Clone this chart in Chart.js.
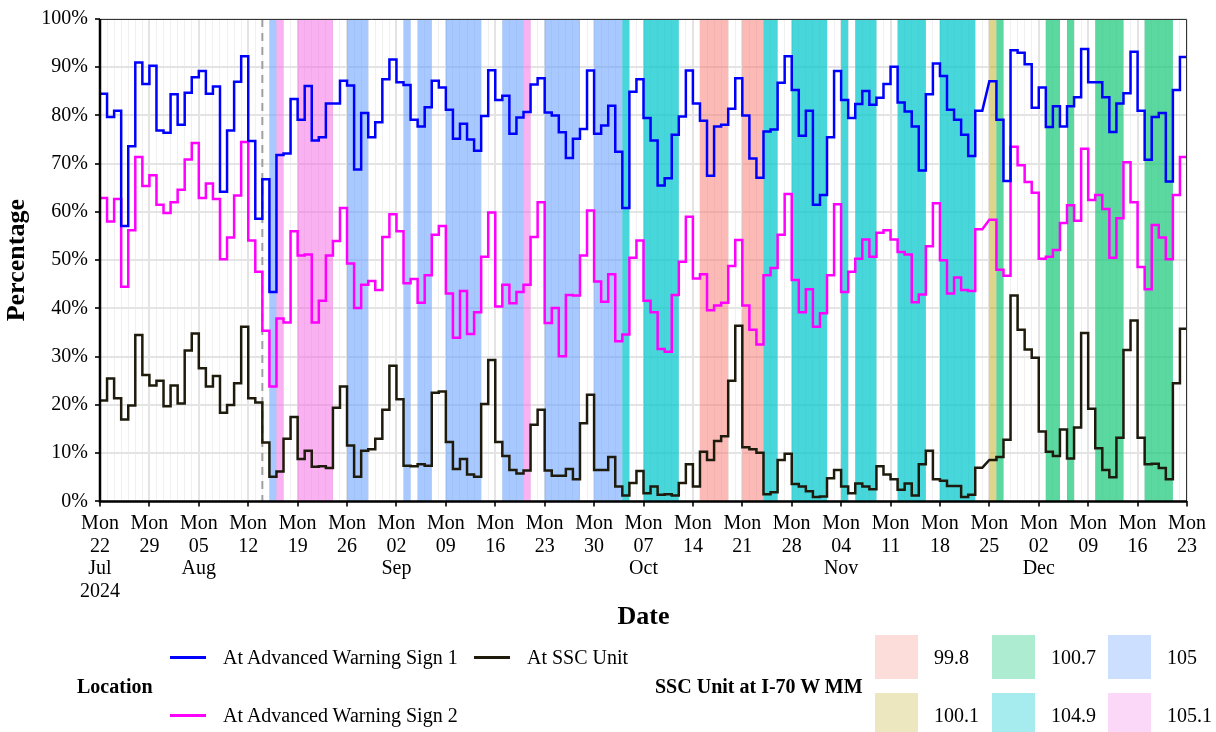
<!DOCTYPE html>
<html>
<head>
<meta charset="utf-8">
<script src="https://cdn.jsdelivr.net/npm/chart.js@4.4.1/dist/chart.umd.min.js"></script>
<style>
  html, body { margin: 0; padding: 0; background: #fff; }
  #wrap { position: relative; width: 1216px; height: 732px; overflow: hidden; font-family: 'Liberation Serif', 'Times New Roman', serif; }
  #chart { position: absolute; left: 0; top: 0; }
  .lg { position: absolute; font-size: 20px; line-height: 20px; white-space: nowrap; color: #000; }
  .lg-title { font-weight: bold; }
  .lg-line { position: absolute; height: 3px; width: 36px; }
  .lg-box { position: absolute; width: 43px; height: 44px; }
</style>
</head>
<body>
<div id="wrap">
  <canvas id="chart" width="1216" height="732"></canvas>
  <div id="legend"></div>
</div>
<script>
// daily share of speeding (%) by location, day 0 = Mon 22 Jul 2024, null = no data
const sign1 = [
  84.5, 79.7, 81.0, 57.1, 73.6, 91.0, 86.5, 90.3, 76.9, 76.4, 84.4, 78.1, 84.7, 87.9,
  89.2, 84.5, 86.0, 64.2, 76.9, 87.0, 92.3, 74.7, 58.6, 66.8, 43.4, 71.8, 72.1, 83.4,
  79.1, 86.1, 74.8, 75.5, 82.5, 82.5, 87.2, 86.2, 68.8, 80.5, 75.5, 78.6, 87.5, 91.6,
  86.9, 86.3, 79.1, 77.7, 81.7, 87.2, 85.8, 81.2, 75.2, 78.3, 75.0, 72.7, 79.9, 89.4,
  83.2, 84.1, 76.2, 79.6, 80.7, 86.4, 87.7, 80.6, 80.0, 76.5, 71.2, 75.2, 77.2, 89.3,
  76.2, 77.9, 82.0, 72.5, 60.8, 84.9, 87.5, 79.5, 74.8, 65.5, 67.0, 76.0, 79.8, 89.3,
  82.5, 78.9, 67.5, 77.7, 78.1, 81.4, 87.7, 80.0, 71.1, 67.1, 76.7, 77.1, 86.8, 92.3,
  85.3, 75.8, 81.0, 61.5, 63.5, 75.5, 89.2, 83.2, 79.5, 82.4, 85.1, 82.2, 83.7, 86.5,
  90.1, 82.7, 80.8, 77.7, 68.6, 84.4, 90.8, 88.2, 81.2, 79.1, 76.0, 71.6, 81.0, null,
  87.1, 79.1, 66.4, 93.5, 93.0, 90.6, 81.6, 85.8, 77.6, 81.9, 77.7, 81.9, 83.8, 93.8,
  86.9, 86.9, 83.8, 76.6, 82.5, 84.6, 93.2, 81.0, 70.8, 79.7, 80.5, 66.3, 85.3, 92.1
];
const sign2 = [
  62.9, 58.0, 62.7, 44.5, 56.2, 71.4, 65.4, 67.6, 61.5, 59.8, 62.0, 64.6, 70.9, 74.3,
  62.9, 65.9, 62.7, 50.2, 54.7, 63.4, 74.5, 54.1, 47.6, 35.4, 23.8, 37.9, 37.1, 56.0,
  51.0, 51.2, 37.1, 41.6, 51.0, 54.0, 60.8, 49.3, 40.1, 44.9, 45.7, 43.8, 54.8, 59.5,
  56.0, 45.2, 46.1, 41.2, 46.9, 55.3, 57.1, 43.1, 33.9, 43.6, 34.7, 39.2, 50.7, 59.9,
  40.4, 44.9, 41.1, 43.4, 44.9, 54.8, 62.0, 37.0, 40.1, 30.1, 42.8, 42.7, 51.0, 60.3,
  45.6, 41.4, 47.1, 33.2, 34.6, 50.5, 54.1, 41.6, 39.2, 31.6, 31.0, 42.8, 49.7, 59.0,
  46.2, 47.1, 39.6, 40.6, 41.2, 48.8, 54.2, 40.6, 35.6, 32.5, 46.9, 48.4, 55.3, 63.7,
  45.9, 39.2, 44.0, 36.2, 39.0, 46.9, 61.6, 43.4, 47.6, 50.3, 54.3, 50.7, 55.7, 56.2,
  54.3, 51.7, 51.2, 41.3, 42.9, 52.9, 61.8, 50.0, 43.1, 46.4, 43.8, 43.6, 56.4, null,
  58.4, 48.0, 46.8, 73.5, 69.7, 66.2, 64.0, 50.3, 50.7, 52.1, 57.7, 61.4, 58.2, 73.1,
  62.5, 63.5, 60.6, 50.5, 58.7, 70.3, 62.0, 48.6, 44.0, 57.3, 54.7, 50.2, 63.5, 71.4
];
const sscUnit = [
  20.9, 25.5, 21.4, 17.0, 19.9, 34.5, 26.2, 24.0, 25.0, 19.7, 24.0, 20.3, 31.3, 34.8,
  27.6, 23.8, 26.0, 18.4, 20.0, 24.5, 36.2, 21.4, 20.5, 12.2, 5.1, 6.2, 13.0, 17.5,
  8.8, 10.5, 7.2, 7.3, 6.9, 19.4, 23.8, 11.6, 5.1, 10.5, 10.8, 13.0, 19.0, 28.1,
  21.2, 7.4, 7.3, 7.7, 7.4, 22.5, 22.8, 12.3, 6.7, 8.8, 5.6, 5.1, 20.2, 29.3,
  12.3, 9.4, 6.5, 5.8, 6.4, 15.9, 19.0, 6.4, 5.3, 5.3, 6.7, 4.6, 16.2, 22.1,
  6.5, 6.5, 9.2, 3.1, 1.2, 3.8, 6.3, 1.7, 3.1, 1.4, 1.5, 1.2, 3.8, 7.7,
  3.1, 10.3, 8.6, 12.5, 13.5, 25.0, 36.4, 11.2, 10.8, 10.1, 1.5, 1.9, 8.6, 9.9,
  3.6, 3.1, 2.1, 0.9, 1.0, 4.8, 6.5, 3.1, 1.7, 3.7, 3.1, 2.5, 7.3, 5.6,
  4.6, 2.4, 3.7, 1.2, 7.7, 10.5, 4.6, 4.3, 3.2, 3.2, 0.9, 1.4, 7.0, null,
  8.6, 9.2, 12.8, 42.7, 35.6, 31.5, 29.8, 14.5, 10.3, 9.4, 14.9, 8.9, 15.3, 34.9,
  19.2, 11.0, 6.5, 5.0, 13.2, 31.4, 37.5, 13.2, 7.7, 7.8, 6.9, 4.6, 24.5, 35.8
];

// where the SSC unit stood (day ranges, end exclusive)
const bandStart = [24, 25, 28, 35, 43, 45, 49, 57, 60, 63, 70, 74, 77, 85, 91, 94, 98, 105, 107, 113, 119, 126, 127, 134, 137, 141, 148];
const bandEnd   = [25, 26, 33, 38, 44, 47, 54, 60, 61, 68, 74, 75, 82, 89, 94, 96, 103, 106, 110, 117, 124, 127, 128, 136, 138, 145, 152];
const bandUnit  = ['105', '105.1', '105.1', '105', '105', '105', '105', '105', '105.1', '105', '105', '104.9', '104.9', '99.8', '99.8',
                   '104.9', '104.9', '104.9', '104.9', '104.9', '104.9', '100.1', '100.7', '100.7', '100.7', '100.7', '100.7'];
const unitLevels = ['99.8', '100.1', '100.7', '104.9', '105', '105.1'];
const markerDay = 23;

// x axis: Mondays
const tickDays = [0, 7, 14, 21, 28, 35, 42, 49, 56, 63, 70, 77, 84, 91, 98, 105, 112, 119, 126, 133, 140, 147, 154];
const tickDayLabels = ['22', '29', '05', '12', '19', '26', '02', '09', '16', '23', '30', '07', '14', '21', '28', '04', '11', '18', '25', '02', '09', '16', '23'];
const tickMonthLabels = ['Jul', '', 'Aug', '', '', '', 'Sep', '', '', '', '', 'Oct', '', '', '', 'Nov', '', '', '', 'Dec', '', '', ''];
const yearLabel = '2024';
const lastDay = 154;

const FONT = "'Liberation Serif', 'Times New Roman', serif";
const bandFill = {
    '99.8': 'rgba(248,118,109,0.5)', '100.1': 'rgba(183,159,0,0.45)', '100.7': 'rgba(20,200,120,0.7)',
    '104.9': 'rgba(0,200,205,0.72)', '105': 'rgba(97,156,255,0.55)', '105.1': 'rgba(245,100,227,0.5)'
};
const keyFill = {
    '99.8': 'rgba(248,118,109,0.25)', '100.1': 'rgba(183,159,0,0.25)', '100.7': 'rgba(20,200,120,0.35)',
    '104.9': 'rgba(0,200,205,0.35)', '105': 'rgba(97,156,255,0.32)', '105.1': 'rgba(245,100,227,0.25)'
};

function stepPoints(values) {
    const pts = [];
    values.forEach((v, i) => {
        if (v === null) return;
        pts.push({ x: i, y: v }, { x: i + 1, y: v });
    });
    return pts;
}

const shading = {
    id: 'shading',
    beforeDatasetsDraw(chart) {
        const { ctx, chartArea: a, scales: { x } } = chart;
        ctx.save();
        bandStart.forEach((s, i) => {
            const x1 = x.getPixelForValue(s), x2 = x.getPixelForValue(bandEnd[i]);
            ctx.fillStyle = bandFill[bandUnit[i]];
            ctx.fillRect(x1, a.top, x2 - x1, a.bottom - a.top);
        });
        const xm = x.getPixelForValue(markerDay);
        ctx.strokeStyle = '#A0A0A0';
        ctx.lineWidth = 2;
        ctx.setLineDash([8, 6]);
        ctx.beginPath();
        ctx.moveTo(xm, a.top);
        ctx.lineTo(xm, a.bottom);
        ctx.stroke();
        ctx.restore();
    },
    afterDatasetsDraw(chart) {
        const { ctx, chartArea: a } = chart;
        ctx.save();
        ctx.strokeStyle = '#333';
        ctx.lineWidth = 1;
        ctx.beginPath();
        ctx.moveTo(a.left, a.top + 0.5);
        ctx.lineTo(a.right - 0.5, a.top + 0.5);
        ctx.lineTo(a.right - 0.5, a.bottom);
        ctx.stroke();
        ctx.strokeStyle = '#000';
        ctx.lineWidth = 2.5;
        ctx.beginPath();
        ctx.moveTo(a.left, a.top);
        ctx.lineTo(a.left, a.bottom);
        ctx.lineTo(a.right, a.bottom);
        ctx.stroke();
        ctx.restore();
    }
};

const allDays = Array.from({ length: lastDay + 1 }, (_, i) => i);
const yGrid = Array.from({ length: 21 }, (_, i) => i * 5);

const chart = new Chart(document.getElementById('chart'), {
    type: 'line',
    data: {
        datasets: [
            { label: 'At Advanced Warning Sign 1', data: stepPoints(sign1), borderColor: '#0000FF' },
            { label: 'At Advanced Warning Sign 2', data: stepPoints(sign2), borderColor: '#FF00FF' },
            { label: 'At SSC Unit', data: stepPoints(sscUnit), borderColor: '#1E1A0C' }
        ]
    },
    options: {
        responsive: false,
        animation: false,
        devicePixelRatio: 1,
        layout: { padding: { left: 0, right: 29, top: 15, bottom: 99 } },
        plugins: { legend: { display: false }, tooltip: { enabled: false } },
        elements: {
            point: { radius: 0 },
            line: { tension: 0, borderWidth: 2.5, borderJoinStyle: 'miter', fill: false }
        },
        scales: {
            x: {
                type: 'linear',
                min: 0,
                max: lastDay,
                afterBuildTicks: (s) => { s.ticks = allDays.map((v) => ({ value: v })); },
                afterFit: (s) => { s.height = 131.6; },
                ticks: {
                    autoSkip: false,
                    maxRotation: 0,
                    minRotation: 0,
                    padding: 6,
                    color: '#000',
                    font: { family: FONT, size: 20, lineHeight: 1.13 },
                    callback: (v) => {
                        const k = tickDays.indexOf(v);
                        if (k < 0) return '';
                        const lines = ['Mon', tickDayLabels[k]];
                        if (tickMonthLabels[k]) lines.push(tickMonthLabels[k]);
                        if (k === 0) lines.push(yearLabel);
                        return lines;
                    }
                },
                grid: {
                    color: (c) => (c.tick && c.tick.value % 7 === 0 ? '#E4E4E4' : '#F0F0F0'),
                    lineWidth: (c) => (c.tick && c.tick.value % 7 === 0 ? 2 : 1),
                    tickColor: (c) => (c.tick && c.tick.value % 7 === 0 ? '#333' : 'rgba(0,0,0,0)'),
                    tickLength: 5
                },
                border: { display: false },
                title: {
                    display: true,
                    text: 'Date',
                    color: '#000',
                    padding: { top: 0, bottom: 0 },
                    font: { family: FONT, size: 26, weight: 'bold' }
                }
            },
            y: {
                min: 0,
                max: 100,
                afterBuildTicks: (s) => { s.ticks = yGrid.map((v) => ({ value: v })); },
                afterFit: (s) => { s.width = 100; },
                ticks: {
                    padding: 7,
                    color: '#000',
                    font: { family: FONT, size: 20 },
                    callback: (v) => (v % 10 === 0 ? v + '%' : '')
                },
                grid: {
                    color: (c) => (c.tick && c.tick.value % 10 === 0 ? '#E4E4E4' : '#F0F0F0'),
                    lineWidth: (c) => (c.tick && c.tick.value % 10 === 0 ? 2 : 1),
                    tickColor: (c) => (c.tick && c.tick.value % 10 === 0 ? '#333' : 'rgba(0,0,0,0)'),
                    tickLength: 5
                },
                border: { display: false },
                title: {
                    display: true,
                    text: 'Percentage',
                    color: '#000',
                    padding: { top: 2, bottom: 0 },
                    font: { family: FONT, size: 26, weight: 'bold' }
                }
            }
        }
    },
    plugins: [shading]
});

// legends below the plot
function buildLegend() {
    const box = document.getElementById('legend');
    const add = (cls, text, left, top, extra) => {
        const d = document.createElement('div');
        d.className = cls;
        if (text) d.textContent = text;
        d.style.left = left + 'px';
        d.style.top = top + 'px';
        if (extra) Object.assign(d.style, extra);
        box.appendChild(d);
    };
    const rowY = [657, 715];
    add('lg lg-title', 'Location', 77, 686 - 10);
    const ds = chart.data.datasets;
    const lineCols = [170, 474];
    ds.forEach((d, i) => {
        const col = Math.floor(i / 2), row = i % 2;
        add('lg-line', '', lineCols[col], rowY[row] - 1.5, { background: d.borderColor });
        add('lg', d.label, lineCols[col] + 53, rowY[row] - 10);
    });
    add('lg lg-title', 'SSC Unit at I-70 W MM', 655, 686 - 10);
    const boxCols = [875, 992, 1108];
    const boxTop = [635, 693];
    unitLevels.forEach((u, i) => {
        const col = Math.floor(i / 2), row = i % 2;
        add('lg-box', '', boxCols[col], boxTop[row], { background: keyFill[u] });
        add('lg', u, boxCols[col] + 59, rowY[row] - 10);
    });
}
buildLegend();
</script>
</body>
</html>
